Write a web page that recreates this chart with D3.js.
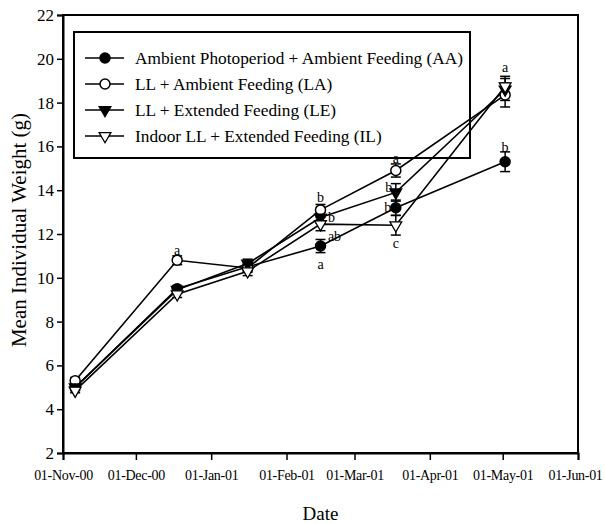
<!DOCTYPE html>
<html>
<head>
<meta charset="UTF-8" />
<script src="https://d3js.org/d3.v7.min.js"></script>
<style>
  body { margin: 0; background: #fff; }
</style>
</head>
<body>
<div id="chart"></div>
<script>
// sampling dates
const dates = ["2000-11-06", "2000-12-18", "2001-01-16", "2001-02-15", "2001-03-18", "2001-05-02"];

// series: means and standard errors
const aaMean = [5.0, 9.5, 10.5, 11.45, 13.2, 15.3];
const aaErr  = [0.15, 0.15, 0.2, 0.3, 0.35, 0.45];
const laMean = [5.3, 10.8, 10.45, 13.1, 14.9, 18.35];
const laErr  = [0.15, 0.2, 0.2, 0.25, 0.3, 0.55];
const leMean = [5.0, 9.45, 10.65, 12.75, 13.9, 18.6];
const leErr  = [0.15, 0.15, 0.2, 0.25, 0.4, 0.5];
const ilMean = [4.85, 9.25, 10.3, 12.45, 12.4, 18.75];
const ilErr  = [0.1, 0.15, 0.2, 0.3, 0.45, 0.45];

const seriesNames = [
  "Ambient Photoperiod + Ambient Feeding (AA)",
  "LL + Ambient Feeding (LA)",
  "LL + Extended Feeding (LE)",
  "Indoor LL + Extended Feeding (IL)"
];

const xTicks = ["2000-11-01", "2000-12-01", "2001-01-01", "2001-02-01", "2001-03-01", "2001-04-01", "2001-05-01", "2001-06-01"];
const yTicks = [2, 4, 6, 8, 10, 12, 14, 16, 18, 20, 22];

// significance letters: [date index, value, letter, dx, dy]
const letters = [
  [1, 10.8, "a", 0, -10],
  [3, 13.1, "b", 0, -12],
  [3, 12.75, "b", 11, 0],
  [3, 12.45, "ab", 14, 12],
  [3, 11.45, "a", 0, 18],
  [4, 14.9, "a", 0, -12],
  [4, 13.9, "b", -7, -5],
  [4, 13.2, "b", -8, 0],
  [4, 12.4, "c", 0, 18],
  [5, 18.75, "a", 0, -19],
  [5, 15.3, "b", 0, -14]
];

const FONT = '"Liberation Serif", "DejaVu Serif", serif';
const W = 605, H = 524;
const m = { left: 63, right: 27, top: 15, bottom: 71 };
const parse = d3.timeParse("%Y-%m-%d");

const svg = d3.select("#chart").append("svg").attr("width", W).attr("height", H);

const x = d3.scaleTime()
  .domain([parse("2000-11-01"), parse("2001-06-01")])
  .range([m.left, W - m.right]);
const y = d3.scaleLinear().domain([2, 22]).range([H - m.bottom, m.top]);

// frame
svg.append("rect")
  .attr("x", m.left).attr("y", m.top)
  .attr("width", W - m.right - m.left).attr("height", H - m.bottom - m.top)
  .attr("fill", "none").attr("stroke", "#000").attr("stroke-width", 2);

// x axis, weekly minor ticks + monthly labels
const xAxis = svg.append("g").attr("transform", `translate(0,${H - m.bottom})`);
xAxis.call(d3.axisBottom(x).tickValues(d3.timeWeek.range(parse("2000-11-01"), parse("2001-06-01"), 1)
    .map(d => d3.timeDay.offset(d, 4)))
  .tickSize(3).tickFormat(""));
xAxis.call(d3.axisBottom(x).tickValues(xTicks.map(parse)).tickSize(7).tickPadding(10)
  .tickFormat(d3.timeFormat("%d-%b-%y")));
xAxis.selectAll(".domain").attr("stroke-width", 2);
xAxis.selectAll("line").attr("stroke-width", 1.5);
xAxis.selectAll("text").style("font-size", "14px").style("letter-spacing", "-0.3px");
// keep the last label inside the page
xAxis.selectAll(".tick text").filter((d, i, n) => i === n.length - 1).attr("dx", -3);

// y axis
const yAxis = svg.append("g").attr("transform", `translate(${m.left},0)`)
  .call(d3.axisLeft(y).tickValues(yTicks).tickSize(6).tickPadding(3));
yAxis.selectAll(".domain").attr("stroke-width", 2);
yAxis.selectAll("line").attr("stroke-width", 1.5);
yAxis.selectAll("text").style("font-size", "17px");

// axis titles
svg.append("text").attr("x", (m.left + W - m.right) / 2).attr("y", 520)
  .attr("text-anchor", "middle").style("font-size", "19px").text("Date");
svg.append("text")
  .attr("transform", `translate(26,${(m.top + H - m.bottom) / 2 - 4}) rotate(-90)`)
  .attr("text-anchor", "middle").style("font-size", "21px")
  .text("Mean Individual Weight (g)");

const tri = d3.symbol().type(d3.symbolTriangle).size(60);
const series = [
  { mean: aaMean, err: aaErr, shape: "circle", fill: "#000" },
  { mean: laMean, err: laErr, shape: "circle", fill: "#fff" },
  { mean: leMean, err: leErr, shape: "tri", fill: "#000" },
  { mean: ilMean, err: ilErr, shape: "tri", fill: "#fff" }
];

function marker(g, s) {
  if (s.shape === "circle") {
    g.append("circle").attr("r", 5).attr("fill", s.fill).attr("stroke", "#000").attr("stroke-width", 1.5);
  } else {
    g.append("path").attr("d", tri).attr("transform", "rotate(180)")
      .attr("fill", s.fill).attr("stroke", "#000").attr("stroke-width", 1.3);
  }
}

const line = d3.line().x(d => x(d.date)).y(d => y(d.v));

series.forEach(s => {
  const pts = dates.map((d, i) => ({ date: parse(d), v: s.mean[i], e: s.err[i] }));
  // error bars
  const eb = svg.append("g");
  pts.forEach(p => {
    const cx = x(p.date);
    eb.append("line").attr("x1", cx).attr("x2", cx).attr("y1", y(p.v - p.e)).attr("y2", y(p.v + p.e))
      .attr("stroke", "#000").attr("stroke-width", 1.5);
    [p.v - p.e, p.v + p.e].forEach(v => {
      eb.append("line").attr("x1", cx - 5).attr("x2", cx + 5).attr("y1", y(v)).attr("y2", y(v))
        .attr("stroke", "#000").attr("stroke-width", 1.5);
    });
  });
  svg.append("path").datum(pts).attr("d", line)
    .attr("fill", "none").attr("stroke", "#000").attr("stroke-width", 1.6);
  s.pts = pts;
});

series.forEach(s => {
  s.pts.forEach(p => {
    const g = svg.append("g").attr("transform", `translate(${x(p.date)},${y(p.v)})`);
    marker(g, s);
  });
});

// letters
letters.forEach(([i, v, t, dx, dy]) => {
  svg.append("text").attr("x", x(parse(dates[i])) + dx).attr("y", y(v) + dy)
    .attr("text-anchor", "middle").attr("dominant-baseline", "central")
    .style("font-size", "14px").text(t);
});

// legend (no fill, lines show through)
const lg = svg.append("g");
lg.append("rect").attr("x", 74).attr("y", 32).attr("width", 396).attr("height", 126)
  .attr("fill", "none").attr("stroke", "#000").attr("stroke-width", 2);
series.forEach((s, i) => {
  const yy = 58 + i * 26;
  lg.append("line").attr("x1", 85).attr("x2", 124).attr("y1", yy).attr("y2", yy)
    .attr("stroke", "#000").attr("stroke-width", 1.6);
  marker(lg.append("g").attr("transform", `translate(105,${yy})`), s);
  lg.append("text").attr("x", 135).attr("y", yy).attr("dominant-baseline", "central")
    .style("font-size", "17.3px").text(seriesNames[i]);
});

svg.selectAll("text").style("font-family", FONT).attr("fill", "#000");
</script>
</body>
</html>
